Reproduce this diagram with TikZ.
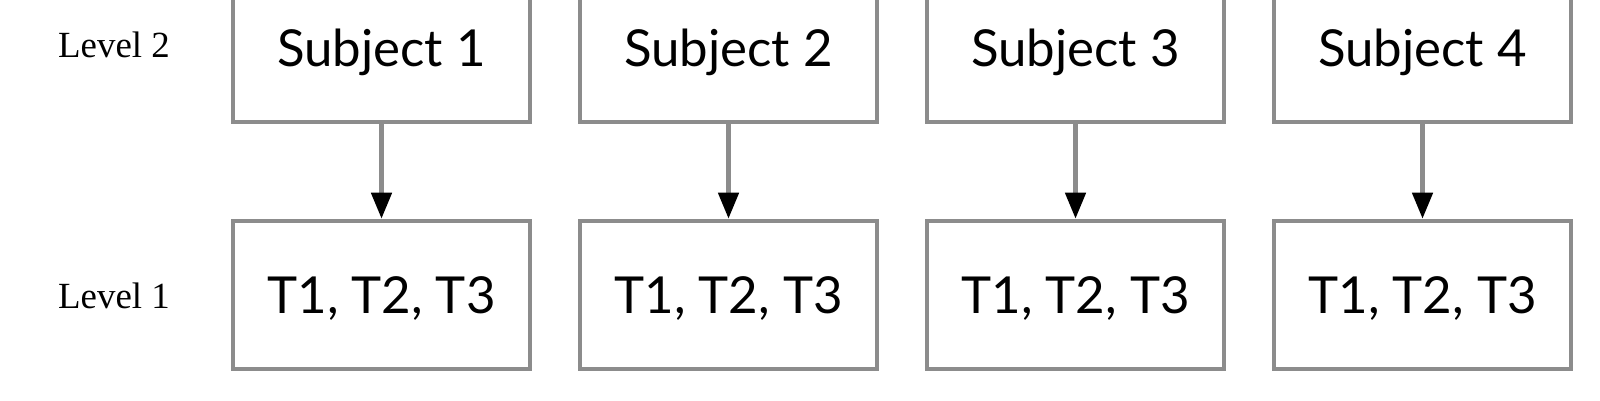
\documentclass[tikz,border=0pt]{standalone}
\usepackage{fontspec}
\setmainfont{Liberation Serif}
\newfontfamily\boxfont{Lato}
\usetikzlibrary{arrows.meta}
\definecolor{boxgray}{HTML}{8C8C8C}

\begin{document}
\begin{tikzpicture}[
    box/.style={draw=boxgray, line width=1.3pt, fill=white,
        minimum width=2.97cm, minimum height=1.48cm,
        text height=10.4pt, text depth=0pt,
        font=\boxfont\fontsize{14.5}{16}\selectfont},
    level/.style={text height=7pt, text depth=0pt,
        font=\fontsize{10.5}{12}\selectfont},
    link/.style={draw=boxgray, line width=1.3pt,
        -{Triangle[black,width=2mm,length=2.6mm]}}]
    \useasboundingbox (0,0) rectangle (16,4);
    \node[level] (lvltwo) at (1.14,3.55) {Level 2};
    \node[level] (lvlone) at (1.14,1.04) {Level 1};
    \foreach \i/\x in {1/3.815, 2/7.285, 3/10.755, 4/14.225} {
        \node[box] (subj\i) at (\x,3.52) {Subject \i};
        \node[box] (tset\i) at (\x,1.05) {T1, T2, T3};
        \draw[link] (subj\i) -- (tset\i);
    }
\end{tikzpicture}
\end{document}
